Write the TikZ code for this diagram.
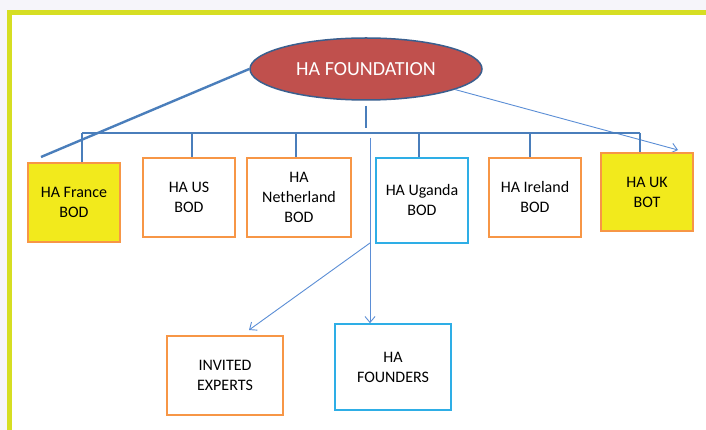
\documentclass[tikz,border=0pt]{standalone}
\usepackage{fontspec}
\setmainfont{Carlito}
\usetikzlibrary{arrows.meta,calc,positioning,shapes.geometric}

\definecolor{framegreen}{HTML}{D6DE23}
\definecolor{pagegrey}{HTML}{F6F5FA}
\definecolor{boxorange}{HTML}{F79646}
\definecolor{boxblue}{HTML}{2EAEE6}
\definecolor{boxyellow}{HTML}{F2EA1C}
\definecolor{linkblue}{HTML}{4A7EBB}
\definecolor{thinblue}{HTML}{5B8ED6}
\definecolor{ovalred}{HTML}{C0504D}
\definecolor{ovalrim}{HTML}{3A5F8E}

\begin{document}
\begin{tikzpicture}[x=1pt, y=-1pt,
  oval/.style={draw=ovalrim, line width=1.5pt, fill=ovalred, ellipse, minimum width=232pt, minimum height=62pt, inner sep=0pt, text=white, font=\fontsize{20}{24}\selectfont},
  board/.style={draw=boxorange, line width=1.6pt, fill=white, minimum width=92pt, minimum height=79pt, inner sep=0pt, align=center, font=\fontsize{16}{20}\selectfont},
  hiboard/.style={board, fill=boxyellow},
  bluebox/.style={board, draw=boxblue},
  trunk/.style={draw=linkblue, line width=2.4pt},
  arr/.style={draw=thinblue, line width=0.9pt, -{Straight Barb[length=6pt,width=10pt]}}
]
\useasboundingbox (0,0) rectangle (706,430);
% page and frame
\fill[pagegrey] (0,0) rectangle (706,430);
\fill[framegreen] (7,10) rectangle (706,430);
\fill[white] (12,15) rectangle (706,430);

\node[oval] (found) at (366,69) {HA FOUNDATION};

\coordinate (bus) at (366,133);
\coordinate (frtip) at (41,157);
\coordinate (uktip) at (678,150);
\coordinate (split) at (370,138);
\coordinate (fork) at (370,243);
\coordinate (extip) at (249,330);

% lines first, boxes on top
\draw[trunk] (found.west) -- (frtip);
\draw[trunk, shorten <=5pt, shorten >=5pt] (found.south) -- (bus);
\draw[arr] (found.-13) -- (uktip);

\node[hiboard] (fr) at (74,202.5) {HA France\\BOD};
\node[board] (us) at (189,197.5) {HA US\\BOD};
\node[board, minimum width=104pt] (nl) at (299,197.5) {HA\\Netherland\\BOD};
\node[bluebox, minimum height=85pt] (ug) at (422,200.5) {HA Uganda\\BOD};
\node[board] (ie) at (535,197.5) {HA Ireland\\BOD};
\node[hiboard, minimum height=78pt] (uk) at (647,192) {HA UK\\BOT};

\node[board, minimum width=116pt] (ex) at (225,375.5) {INVITED\\EXPERTS};
\node[bluebox, minimum width=116pt, minimum height=86pt] (fo) at (393,367) {HA\\FOUNDERS};

\draw[trunk, line width=1.8pt] ([xshift=8pt]fr.north |- bus) -- ([xshift=-7pt]uk.north |- bus);
\foreach \b/\d in {fr/8,us/3,nl/-3,ug/-3,ie/-5,uk/-7}
  \draw[trunk, line width=1.8pt] ([xshift=\d pt]\b.north |- bus) -- ([xshift=\d pt]\b.north);

\draw[arr] (split) -- (split |- fo.north);
\draw[arr] (fork) -- (extip);
\end{tikzpicture}
\end{document}
